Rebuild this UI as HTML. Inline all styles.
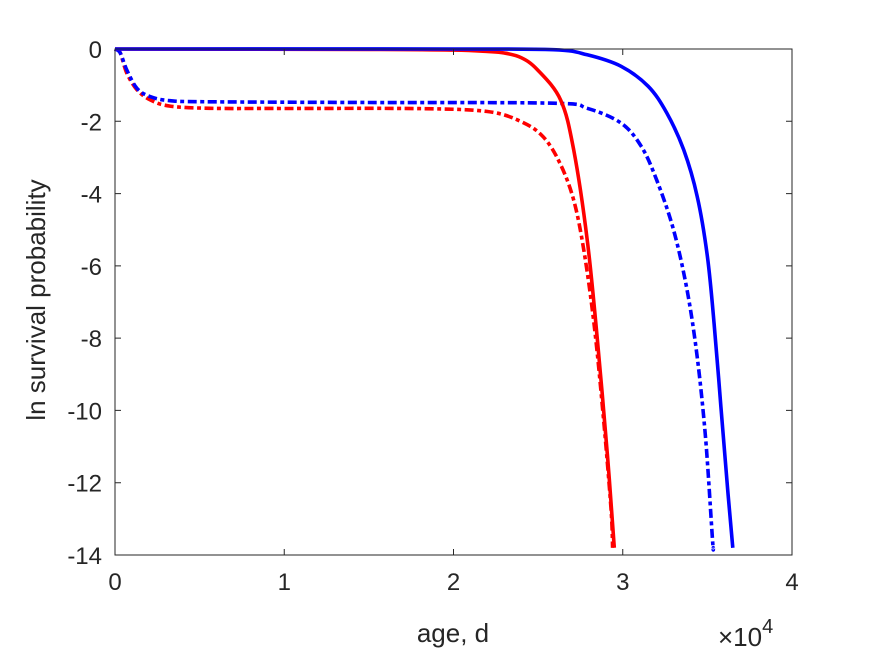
<!DOCTYPE html>
<html><head><meta charset="utf-8"><style>
body{margin:0;background:#fff;}
svg{display:block;font-family:"Liberation Sans",Arial,sans-serif;}
</style></head><body>
<svg id="chart" width="875" height="656" viewBox="0 0 875 656" xmlns="http://www.w3.org/2000/svg">
<rect width="875" height="656" fill="#fff"/>
<g id="series"></g>
<rect x="115" y="49" width="677" height="506" fill="none" stroke="#262626" stroke-width="1"/>
<g id="ticks"></g>
<text x="453" y="642" font-size="26" fill="#262626" text-anchor="middle">age, d</text>
<text transform="translate(45,300) rotate(-90)" font-size="26" fill="#262626" text-anchor="middle">ln survival probability</text>
<text x="718" y="646" font-size="26" fill="#262626">×10<tspan dy="-13" font-size="20">4</tspan></text>
</svg>
<script>
const xTicks=[0,1,2,3,4];
const yTicks=[0,-2,-4,-6,-8,-10,-12,-14];
const redSolidX=[0,1.5,2.0,2.2,2.3,2.4,2.495,2.633,2.71,2.79,2.85,2.91,2.95];
const redSolidY=[0,-0.01,-0.03,-0.07,-0.11,-0.24,-0.57,-1.41,-2.79,-5.28,-8.05,-11.26,-13.8];
const redDashX=[0,0.03,0.07,0.13,0.21,0.325,0.56,1.0,1.8,2.2,2.4,2.53,2.63,2.71,2.77,2.83,2.88,2.93,2.94];
const redDashY=[0,-0.1,-0.67,-1.13,-1.41,-1.58,-1.64,-1.645,-1.65,-1.73,-2.01,-2.43,-3.17,-4.18,-5.56,-7.6,-9.9,-12.68,-13.8];
const blueDashX=[0,0.03,0.07,0.13,0.21,0.325,0.56,1.5,2.59,2.79,2.99,3.11,3.2,3.3,3.38,3.44,3.49,3.53,3.535];
const blueDashY=[0,-0.1,-0.58,-1.09,-1.32,-1.43,-1.46,-1.48,-1.5,-1.64,-2.05,-2.7,-3.62,-5.0,-6.67,-8.52,-10.8,-13.57,-13.8];
const blueSolidX=[0,2.0,2.59,2.79,2.99,3.15,3.26,3.36,3.44,3.5,3.54,3.58,3.62,3.65];
const blueSolidY=[0,0,-0.02,-0.16,-0.48,-1.03,-1.77,-2.79,-4.08,-5.74,-7.6,-9.9,-12.2,-13.8];

const X0=115,X1=792,Y0=49,Y1=555;
const sx=v=>X0+(v-0)/(4-0)*(X1-X0);
const sy=v=>Y0+(0-v)/(0-(-14))*(Y1-Y0);
const NS="http://www.w3.org/2000/svg";
const tk=document.getElementById('ticks');
xTicks.forEach(t=>{
  const x=sx(t);
  const l=document.createElementNS(NS,'path');
  l.setAttribute('d',`M${x},${Y1}V${Y1-6}M${x},${Y0}V${Y0+6}`);
  l.setAttribute('stroke','#262626');
  
  
  tk.appendChild(l);
  const tx=document.createElementNS(NS,'text');
  tx.setAttribute('x',x);tx.setAttribute('y',Y1+35);
  tx.setAttribute('font-size','24');tx.setAttribute('fill','#262626');tx.setAttribute('text-anchor','middle');
  
  
  tx.textContent=t;tk.appendChild(tx);
});
yTicks.forEach(t=>{
  const y=sy(t);
  const l=document.createElementNS(NS,'path');
  l.setAttribute('d',`M${X0},${y}H${X0+6}M${X1},${y}H${X1-6}`);
  l.setAttribute('stroke','#262626');
  
  
  tk.appendChild(l);
  const tx=document.createElementNS(NS,'text');
  tx.setAttribute('x',X0-13);tx.setAttribute('y',y+9);
  tx.setAttribute('font-size','24');tx.setAttribute('fill','#262626');tx.setAttribute('text-anchor','end');
  
  
  tx.textContent=t;tk.appendChild(tx);
});
const sg=document.getElementById('series');
function smoothPath(xs,ys){
  const p=xs.map((x,i)=>[sx(x),sy(ys[i])]);
  let d=`M${p[0][0].toFixed(1)},${p[0][1].toFixed(1)}`;
  for(let i=0;i<p.length-1;i++){
    const p0=p[Math.max(0,i-1)],p1=p[i],p2=p[i+1],p3=p[Math.min(p.length-1,i+2)];
    const c1=[p1[0]+(p2[0]-p0[0])/6,p1[1]+(p2[1]-p0[1])/6];
    const c2=[p2[0]-(p3[0]-p1[0])/6,p2[1]-(p3[1]-p1[1])/6];
    d+=`C${c1[0].toFixed(1)},${c1[1].toFixed(1)} ${c2[0].toFixed(1)},${c2[1].toFixed(1)} ${p2[0].toFixed(1)},${p2[1].toFixed(1)}`;
  }
  return d;
}
function draw(xs,ys,color,dash,name){
  const p=document.createElementNS(NS,'path');
  p.setAttribute('d',smoothPath(xs,ys));
  p.setAttribute('fill','none');p.setAttribute('stroke',color);p.setAttribute('stroke-width','3.6');
  p.setAttribute('stroke-linejoin','round');
  if(dash)p.setAttribute('stroke-dasharray',dash);
  
  
  sg.appendChild(p);
}
draw(redDashX,redDashY,'#ff0000','9 3.5 4 3.5','red-dashdot-line');
draw(blueDashX,blueDashY,'#0000ff','9 3.5 4 3.5','blue-dashdot-line');
draw(redSolidX,redSolidY,'#ff0000',null,'red-solid-line');
draw(blueSolidX,blueSolidY,'#0000ff',null,'blue-solid-line');
</script>
</body></html>
